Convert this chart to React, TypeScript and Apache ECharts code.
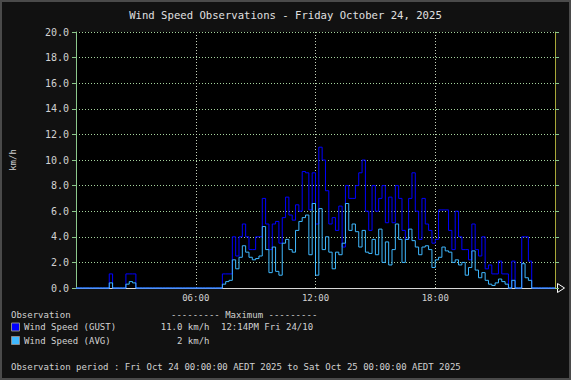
import React, { useEffect, useRef } from "react";
import * as echarts from "echarts";

const MONO = "'DejaVu Sans Mono', 'Liberation Mono', monospace";
const TITLE = "Wind Speed Observations - Friday October 24, 2025";
const PERIOD = "Observation period : Fri Oct 24 00:00:00 AEDT 2025 to Sat Oct 25 00:00:00 AEDT 2025";
const MAX_HEADER = "--------- Maximum ---------";
const LEGEND_HEADER = "Observation";
const Y_UNIT = "km/h";

const SERIES_NAMES = ["Wind Speed (GUST)", "Wind Speed (AVG)"];
const SERIES_COLORS = ["#0000ff", "#3fb8ff"];
const MAX_VALUES = ["11.0 km/h", "2 km/h"];
const MAX_TIMES = ["12:14PM Fri 24/10", ""];

const X_MIN = 0;
const X_MAX = 24;
const X_STEP = 6;
const Y_MIN = 0;
const Y_MAX = 20;
const Y_STEP = 2;
const SAMPLES_PER_HOUR = 6; // 10-minute samples

// gust, km/h, 10-minute samples, one row per hour
const GUST = [
  0, 0, 0, 0, 0, 0,
  0, 0, 0, 0, 1.1, 0,
  0, 0, 0, 1.1, 1.1, 1.1,
  0, 0, 0, 0, 0, 0,
  0, 0, 0, 0, 0, 0,
  0, 0, 0, 0, 0, 0,
  0, 0, 0, 0, 0, 0,
  0, 0, 1.1, 1.1, 1.1, 4.0,
  2.5, 4.0, 5.0, 4.0, 3.0, 3.0,
  4.0, 4.0, 7.0, 5.0, 3.0, 5.0,
  5.2, 3.5, 5.5, 7.1, 5.7, 5.3,
  6.5, 6.0, 9.1, 9.0, 6.1, 9.0,
  5.0, 11.0, 10.0, 7.6, 5.0, 5.5,
  4.5, 6.4, 3.2, 8.0, 7.0, 7.0,
  8.0, 9.0, 10.0, 6.0, 4.5, 8.0,
  6.0, 7.0, 8.0, 5.1, 7.1, 5.1,
  8.0, 7.0, 4.5, 3.8, 7.0, 9.0,
  6.0, 3.8, 7.0, 5.0, 4.5, 3.5,
  3.8, 6.1, 6.1, 6.1, 4.5, 3.0,
  6.0, 4.0, 3.0, 3.0, 2.2, 5.0,
  3.0, 2.5, 4.0, 1.5, 1.8, 1.1,
  1.1, 2.1, 1.1, 1.1, 0, 2.1,
  0, 0, 4.0, 4.0, 2.1, 0,
  0, 0, 0, 0, 0, 0,
];

// average, km/h
const AVG = [
  0, 0, 0, 0, 0, 0,
  0, 0, 0, 0, 0.4, 0,
  0, 0, 0, 0.3, 0.5, 0.4,
  0, 0, 0, 0, 0, 0,
  0, 0, 0, 0, 0, 0,
  0, 0, 0, 0, 0, 0,
  0, 0, 0, 0, 0, 0,
  0, 0, 0.3, 0.5, 0.6, 2.2,
  1.5, 2.4, 3.3, 2.8, 2.4, 2.2,
  2.3, 2.5, 4.8, 3.0, 1.2, 3.2,
  1.3, 1.0, 3.5, 3.8, 3.0, 2.8,
  4.5, 5.2, 5.5, 5.7, 2.6, 6.6,
  1.0, 6.2, 3.0, 4.0, 2.8, 1.5,
  2.8, 2.6, 3.5, 6.6, 4.5, 5.0,
  4.4, 3.2, 4.5, 2.8, 2.7, 3.8,
  2.6, 4.6, 2.0, 3.6, 1.8, 3.0,
  5.0, 3.8, 2.0, 3.8, 4.6, 3.7,
  3.2, 2.6, 3.2, 3.3, 3.0, 1.6,
  2.2, 2.4, 3.2, 2.9, 2.8, 2.0,
  2.2, 1.8, 2.0, 1.0, 1.6, 2.9,
  1.4, 0.8, 1.2, 0.6, 0.3, 0.2,
  0.4, 0.7, 0.5, 0.3, 0, 0.6,
  0, 0, 1.9, 0.8, 0.6, 0,
  0, 0, 0, 0, 0, 0,
];

function toPoints(values: number[]) {
  const pts = values.map((v, i) => [i / SAMPLES_PER_HOUR, v]);
  pts.push([X_MAX, values[values.length - 1]]);
  return pts;
}

function hourLabel(v: number) {
  if (v <= X_MIN || v >= X_MAX) return "";
  return (v < 10 ? "0" : "") + v + ":00";
}

export default function App() {
  const ref = useRef<HTMLDivElement>(null);

  useEffect(() => {
    if (!ref.current) return;
    const chart = echarts.init(ref.current, null, { renderer: "svg" });
    const textColor = "#d2d2d2";
    const legendRows = SERIES_NAMES.map((name, i) => {
      const y = 327 + i * 13.5;
      return [
        {
          type: "rect",
          shape: { x: 11.5, y: y - 4, width: 8, height: 8 },
          style: { fill: SERIES_COLORS[i], stroke: "#8a8a8a", lineWidth: 1 },
        },
        {
          type: "text",
          x: 24,
          y,
          style: { text: name, fill: textColor, fontSize: 9, fontFamily: MONO, verticalAlign: "middle" },
        },
        {
          type: "text",
          x: 209.5,
          y,
          style: { text: MAX_VALUES[i], fill: textColor, fontSize: 9, fontFamily: MONO, align: "right", verticalAlign: "middle" },
        },
        {
          type: "text",
          x: 221,
          y,
          style: { text: MAX_TIMES[i], fill: textColor, fontSize: 9, fontFamily: MONO, verticalAlign: "middle" },
        },
      ];
    }).flat();

    chart.setOption({
      animation: false,
      backgroundColor: "#111111",
      textStyle: { fontFamily: MONO },
      grid: { left: 76, right: 16, top: 32, bottom: 92, show: true, backgroundColor: "#000000", borderWidth: 0 },
      xAxis: {
        type: "value",
        min: X_MIN,
        max: X_MAX,
        interval: X_STEP,
        axisLine: { show: true, lineStyle: { color: "#d8d8d8", width: 1 } },
        axisTick: { show: false },
        axisLabel: { color: textColor, fontSize: 9, fontFamily: MONO, margin: 5, formatter: hourLabel },
        splitLine: { show: true, showMinLine: false, showMaxLine: false, lineStyle: { color: "#c6d2bc", type: [1, 2], width: 1 } },
      },
      yAxis: [
        {
          type: "value",
          min: Y_MIN,
          max: Y_MAX,
          interval: Y_STEP,
          name: Y_UNIT,
          nameLocation: "middle",
          nameGap: 59,
          nameTextStyle: { color: textColor, fontSize: 9, fontFamily: MONO },
          axisLine: { show: true, lineStyle: { color: "#8cc88c" } },
          axisTick: { show: true, length: 4, lineStyle: { color: "#8cc88c" } },
          axisLabel: { color: textColor, fontSize: 10, fontFamily: MONO, margin: 7, formatter: (v: number) => v.toFixed(1) },
          splitLine: { show: true, showMinLine: false, lineStyle: { color: "#a6d49e", type: [1, 2], width: 1 } },
        },
        {
          type: "value",
          position: "right",
          min: Y_MIN,
          max: Y_MAX,
          interval: Y_STEP,
          axisLine: { show: true, lineStyle: { color: "#a8a838" } },
          axisTick: { show: true, length: 4, lineStyle: { color: "#8cc88c" } },
          axisLabel: { show: false },
          splitLine: { show: false },
        },
      ],
      series: [
        {
          name: SERIES_NAMES[0],
          type: "line",
          step: "end",
          data: toPoints(GUST),
          showSymbol: false,
          clip: false,
          lineStyle: { color: SERIES_COLORS[0], width: 1 },
          itemStyle: { color: SERIES_COLORS[0] },
        },
        {
          name: SERIES_NAMES[1],
          type: "line",
          step: "end",
          data: toPoints(AVG),
          showSymbol: false,
          clip: false,
          lineStyle: { color: SERIES_COLORS[1], width: 1 },
          itemStyle: { color: SERIES_COLORS[1] },
        },
      ],
      graphic: [
        {
          type: "rect",
          shape: { x: 1, y: 1, width: 569, height: 378 },
          style: { fill: "none", stroke: "#4a4a4a", lineWidth: 2 },
          z: 100,
        },
        {
          type: "text",
          x: 285.5,
          y: 14.5,
          style: { text: TITLE, fill: "#e0e0e0", fontSize: 10.6, fontWeight: "normal", fontFamily: MONO, align: "center", verticalAlign: "middle" },
        },
        {
          type: "polygon",
          shape: { points: [[557.5, 283.5], [564.5, 288], [557.5, 292.5]] },
          style: { fill: "#111111", stroke: "#ffffff", lineWidth: 1 },
        },
        {
          type: "text",
          x: 11,
          y: 314.5,
          style: { text: LEGEND_HEADER, fill: textColor, fontSize: 9, fontFamily: MONO, verticalAlign: "middle" },
        },
        {
          type: "text",
          x: 171,
          y: 314.5,
          style: { text: MAX_HEADER, fill: textColor, fontSize: 9, fontFamily: MONO, verticalAlign: "middle" },
        },
        ...legendRows,
        {
          type: "text",
          x: 11,
          y: 366.5,
          style: { text: PERIOD, fill: textColor, fontSize: 9, fontFamily: MONO, verticalAlign: "middle" },
        },
      ],
    });
    return () => chart.dispose();
  }, []);

  return <div ref={ref} style={{ position: "fixed", left: 0, top: 0, width: 571, height: 380 }} />;
}
